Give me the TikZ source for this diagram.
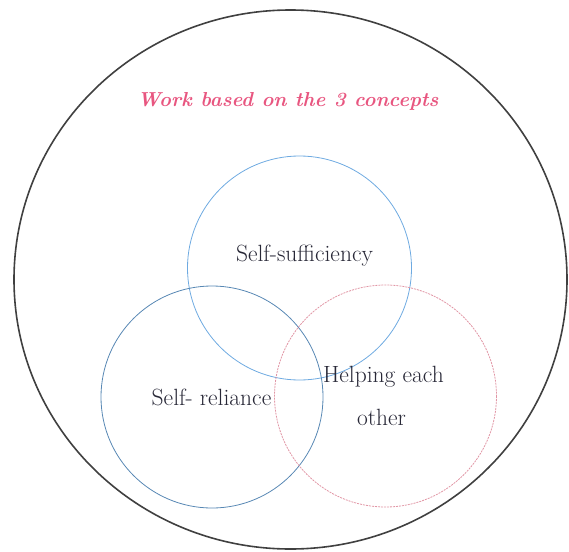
\documentclass[tikz,border=0pt]{standalone}
\definecolor{titlepink}{RGB}{232,86,128}
\definecolor{ringblue}{RGB}{110,170,225}
\definecolor{ringpink}{RGB}{225,150,165}
\definecolor{txt}{RGB}{40,40,55}
\begin{document}
\begin{tikzpicture}[x=1pt,y=-1pt,
  ring/.style={line width=0.8pt},
  lbl/.style={text=txt,font=\fontsize{23.5}{28}\selectfont,inner sep=0pt}]
\useasboundingbox (0,0) rectangle (569,551);
\draw[line width=1.6pt,black!75] (290.5,279.5) ellipse [x radius=276.5, y radius=269.5];
\node[text=titlepink,font=\fontsize{20.2}{24}\selectfont\bfseries\itshape,inner sep=0pt] (title) at (288,101) {Work based on the 3 concepts};
\draw[ring,ringblue] (299.5,268) circle [radius=112];
\draw[ring,ringblue!80!black] (212,397) circle [radius=111];
\draw[ring,ringpink,dash pattern=on 2pt off 1pt] (385.5,396) circle [radius=111];
\node[lbl] (ss) at (304.5,256) {Self-sufficiency};
\node[lbl] (sr) at (211.5,397) {Self- reliance};
\node[lbl] (he1) at (383.5,377) {Helping each};
\node[lbl] (he2) at (381.5,417) {other};
\end{tikzpicture}
\end{document}
